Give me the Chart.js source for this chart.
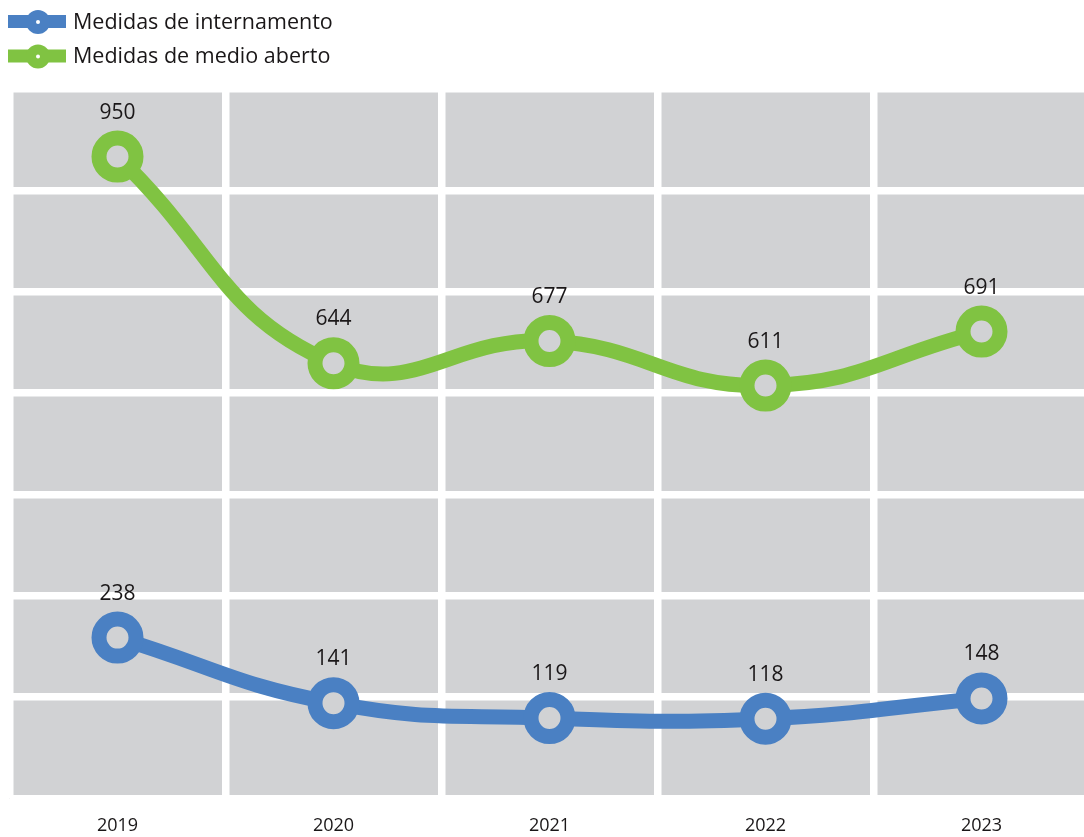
<!DOCTYPE html>
<html>
<head>
<meta charset="utf-8">
<script src="https://cdn.jsdelivr.net/npm/chart.js@4.4.1/dist/chart.umd.min.js"></script>
<style>
  html, body { margin: 0; padding: 0; background: #ffffff; overflow: hidden; }
  #wrap { width: 1094px; height: 837px; }
</style>
</head>
<body>
<div id="wrap"><canvas id="c" width="1094" height="837"></canvas></div>
<script>
const years = ['2019', '2020', '2021', '2022', '2023'];
const internamento = [238, 141, 119, 118, 148];
const medioAberto = [950, 644, 677, 611, 691];
const seriesNames = ['Medidas de internamento', 'Medidas de medio aberto'];
const seriesColors = ['#4a80c3', '#80c342'];
const yMin = 0, yMax = 1050, yStep = 150;

const FONT = "'Open Sans', 'Noto Sans', sans-serif";
const PLOT_BG = '#d1d2d4';
const TEXT = '#1a1718';

const plotBackground = {
  id: 'plotBackground',
  beforeDraw(chart) {
    const { ctx, chartArea: a } = chart;
    ctx.save();
    ctx.fillStyle = PLOT_BG;
    ctx.fillRect(a.left, a.top, a.right - a.left, a.bottom - a.top);
    ctx.restore();
  }
};

const valueLabels = {
  id: 'valueLabels',
  afterDatasetsDraw(chart) {
    const { ctx } = chart;
    ctx.save();
    ctx.font = '21px ' + FONT;
    ctx.fillStyle = TEXT;
    ctx.textAlign = 'center';
    ctx.textBaseline = 'middle';
    chart.data.datasets.forEach((ds, i) => {
      const meta = chart.getDatasetMeta(i);
      meta.data.forEach((pt, j) => {
        ctx.fillText(String(ds.data[j]), pt.x, pt.y - 44);
      });
    });
    ctx.restore();
  }
};

const lineLegend = {
  id: 'lineLegend',
  afterDraw(chart) {
    const { ctx } = chart;
    ctx.save();
    chart.data.datasets.forEach((ds, i) => {
      const cy = 21.5 + i * 34.5;
      ctx.fillStyle = ds.borderColor;
      ctx.fillRect(8, cy - 6.5, 58, 13);
      ctx.beginPath();
      ctx.arc(38, cy + 0.5, 12, 0, Math.PI * 2);
      ctx.fill();
      ctx.fillStyle = '#ffffff';
      ctx.beginPath();
      ctx.arc(38, cy + 0.5, 2, 0, Math.PI * 2);
      ctx.fill();
      ctx.fillStyle = TEXT;
      ctx.font = '21.5px ' + FONT;
      ctx.textAlign = 'left';
      ctx.textBaseline = 'middle';
      ctx.fillText(ds.label, 73, cy + 1);
    });
    ctx.restore();
  }
};

function lineDataset(label, data, color) {
  return {
    label: label,
    data: data,
    borderColor: color,
    backgroundColor: color,
    borderWidth: 15,
    tension: 0.45,
    pointRadius: 18.5,
    pointHoverRadius: 18.5,
    pointBorderWidth: 15,
    pointHoverBorderWidth: 15,
    pointBorderColor: color,
    pointBackgroundColor: PLOT_BG,
    clip: false
  };
}

new Chart(document.getElementById('c'), {
  type: 'line',
  data: {
    labels: years,
    datasets: [
      lineDataset(seriesNames[0], internamento, seriesColors[0]),
      lineDataset(seriesNames[1], medioAberto, seriesColors[1])
    ]
  },
  options: {
    responsive: false,
    animation: false,
    devicePixelRatio: 1,
    layout: { autoPadding: false, padding: { left: 9.5, right: 4.5, top: 89, bottom: 0 } },
    plugins: {
      legend: { display: false },
      tooltip: { enabled: false }
    },
    scales: {
      x: {
        offset: true,
        grid: {
          color: '#ffffff', lineWidth: 7.5, offset: true,
          drawTicks: true, tickLength: 17, tickColor: 'rgba(0,0,0,0)'
        },
        border: { display: false },
        ticks: { color: TEXT, font: { family: FONT, size: 18 }, padding: 0 }
      },
      y: {
        min: yMin,
        max: yMax,
        ticks: { display: false, stepSize: yStep },
        grid: { color: '#ffffff', lineWidth: 7.5, drawTicks: false },
        border: { display: false }
      }
    }
  },
  plugins: [plotBackground, valueLabels, lineLegend]
});
</script>
</body>
</html>
